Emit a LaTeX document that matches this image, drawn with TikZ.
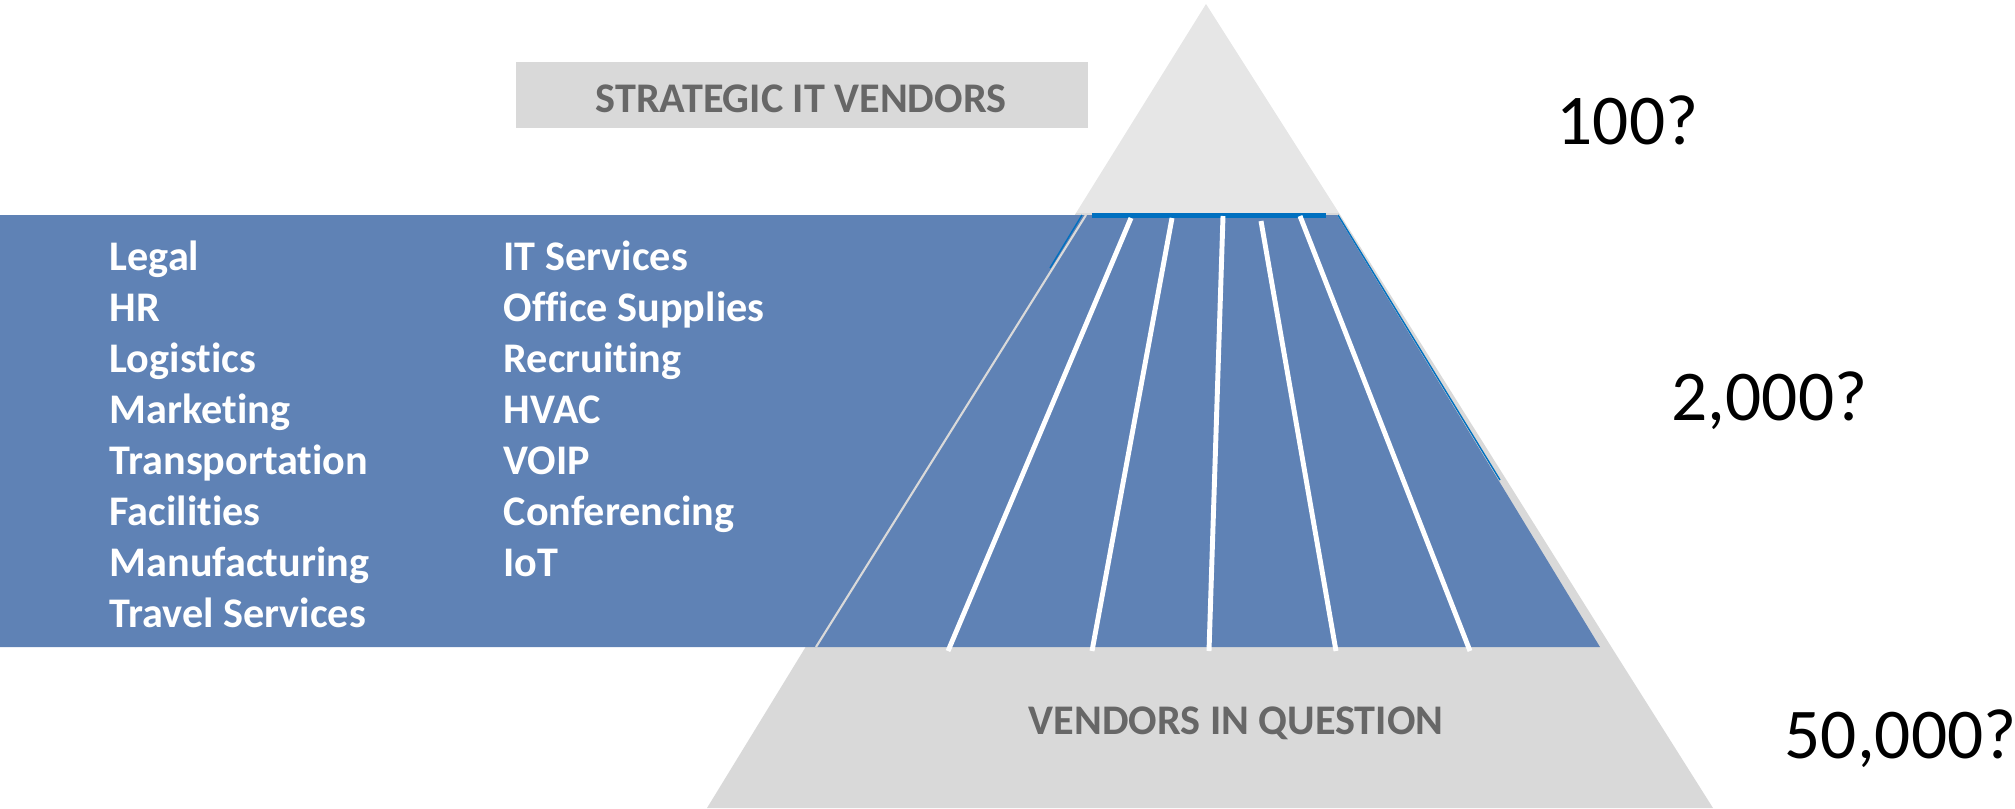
\documentclass[tikz,border=0pt]{standalone}
\usepackage{fontspec}
\setmainfont{Carlito}[Ligatures={NoCommon,NoRare,NoContextual},Contextuals={NoAlternate}]
\definecolor{bandblue}{RGB}{95,130,181}
\definecolor{darkblue}{RGB}{0,112,192}
\definecolor{topgray}{RGB}{230,230,230}
\definecolor{lowgray}{RGB}{217,217,217}
\definecolor{labelgray}{RGB}{103,103,103}
\begin{document}
\begin{tikzpicture}[x=0.01cm,y=-0.01cm,
    listitem/.style={anchor=base west,inner sep=0pt,text=white,font=\fontsize{12}{14}\selectfont\bfseries},
    layerlabel/.style={anchor=base,inner sep=0pt,text=labelgray,font=\fontsize{12}{14}\selectfont\bfseries},
    total/.style={anchor=base west,inner sep=0pt,font=\fontsize{20.3}{24}\selectfont}]
  \useasboundingbox (0,0) rectangle (2015,808);
  % pyramid layers
  \fill[topgray] (1206,4) -- (1339,213) -- (1076,213) -- cycle;
  \fill[lowgray] (1076,213) -- (1339,213) -- (1612,648) -- (805,648) -- cycle;
  \fill[lowgray] (805,648) -- (1612,648) -- (1713,808) -- (707,808) -- cycle;
  % blue band
  \fill[bandblue] (0,215) -- (1337,215) -- (1600,647) -- (0,647) -- cycle;
  \draw[gray!30,line width=0.6pt] (1086,215) -- (816,647);
  \fill[darkblue] (1092,213) rectangle (1326,218);
  \draw[darkblue,line width=0.4pt] (1082,215) -- (1050,268);
  \draw[darkblue,line width=0.4pt] (1338,215) -- (1500,480);
  \foreach \a/\s/\b in {1131/218/948,1172/218/1092,1223/216/1209,1261/221/1336,1300/216/1470}
    \draw[white,line width=1.4pt] (\a,\s) -- (\b,651);

  \node[fill=lowgray,minimum width=5.71cm,minimum height=0.66cm,inner sep=0pt] (strategicbox) at (802,95) {};
  \node[layerlabel] (strategic) at (801,112) {STRATEGIC IT VENDORS};
  \node[layerlabel] (question) at (1236,734) {VENDORS IN QUESTION};

  \foreach \area [count=\i] in {Legal,HR,Logistics,Marketing,Transportation,Facilities,Manufacturing,Travel Services}
    \node[listitem] (left\i) at (109,{270+51*(\i-1)}) {\area};
  \foreach \area [count=\i] in {IT Services,Office Supplies,Recruiting,HVAC,VOIP,Conferencing,IoT}
    \node[listitem] (right\i) at (503,{270+51*(\i-1)}) {\area};

  \node[total] (toptotal) at (1556,144) {100?};
  \node[total] (midtotal) at (1671,420) {2,000?};
  \node[total] (lowtotal) at (1784,758) {50,000?};
\end{tikzpicture}
\end{document}
